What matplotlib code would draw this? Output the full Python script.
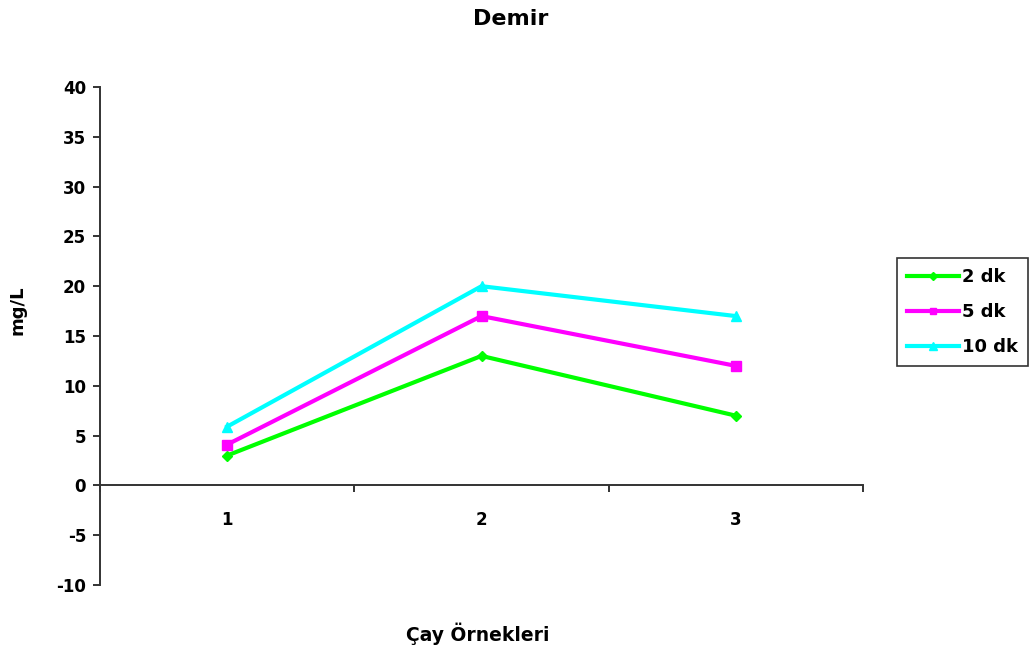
import matplotlib.pyplot as plt

plt.rcParams['font.family'] = ['DejaVu Sans']
plt.rcParams['font.weight'] = 'bold'

# data
samples = ['1', '2', '3']
dk2 = [3, 13, 7]
dk5 = [4.1, 17, 12]
dk10 = [5.9, 20, 17]
series_labels = ['2 dk', '5 dk', '10 dk']
y_ticks = [-10, -5, 0, 5, 10, 15, 20, 25, 30, 35, 40]

W, H = 1030, 655
fig = plt.figure(figsize=(W / 100, H / 100), dpi=100)
ax = fig.add_axes([100 / W, 1 - 585 / H, 763 / W, 498 / H])

x = list(range(1, len(samples) + 1))
ax.plot(x, dk2, color='#00ff00', lw=3, marker='D', ms=5.5, label=series_labels[0])
ax.plot(x, dk5, color='#ff00ff', lw=3, marker='s', ms=6.5, label=series_labels[1])
ax.plot(x, dk10, color='#00ffff', lw=3, marker='^', ms=7.5, label=series_labels[2])

ax.set_xlim(0.5, 3.5)
ax.set_ylim(-10, 40)
ax.set_yticks(y_ticks)
ax.set_yticklabels([str(v) for v in y_ticks], fontsize=12, fontweight='bold')

# category axis crosses at zero, ticks between categories
ax.spines['top'].set_visible(False)
ax.spines['right'].set_visible(False)
ax.spines['bottom'].set_position(('data', 0))
for s in ('left', 'bottom'):
    ax.spines[s].set_color('#333333')
    ax.spines[s].set_linewidth(1.4)
ax.set_xticks([0.5, 1.5, 2.5, 3.5])
ax.set_xticklabels([])
ax.tick_params(axis='x', direction='out', length=5, width=1.4, color='#333333')
ax.tick_params(axis='y', direction='out', length=5, width=1.4, color='#333333', pad=5)
for xi, lab in zip(x, samples):
    ax.text(xi, -3.5, lab, ha='center', va='center', fontsize=12, fontweight='bold')

fig.text(511 / W, 1 - 19 / H, 'Demir', ha='center', va='center', fontsize=16, fontweight='bold')
fig.text(478 / W, 1 - 634 / H, 'Çay Örnekleri', ha='center', va='center', fontsize=13.5, fontweight='bold')
fig.text(18 / W, 1 - 310 / H, 'mg/L', ha='center', va='center', rotation=90, fontsize=13, fontweight='bold')

leg = ax.legend(loc='center left', bbox_to_anchor=(897 / W, 1 - 312 / H),
                bbox_transform=fig.transFigure, fontsize=13,
                frameon=True, fancybox=False, edgecolor='black', handlelength=2.9,
                borderpad=0.55, labelspacing=0.95, handletextpad=0.15, markerscale=0.75,
                borderaxespad=0)
leg.get_frame().set_linewidth(1.2)
for t in leg.get_texts():
    t.set_fontweight('bold')

fig.savefig('out.png', dpi=100)
